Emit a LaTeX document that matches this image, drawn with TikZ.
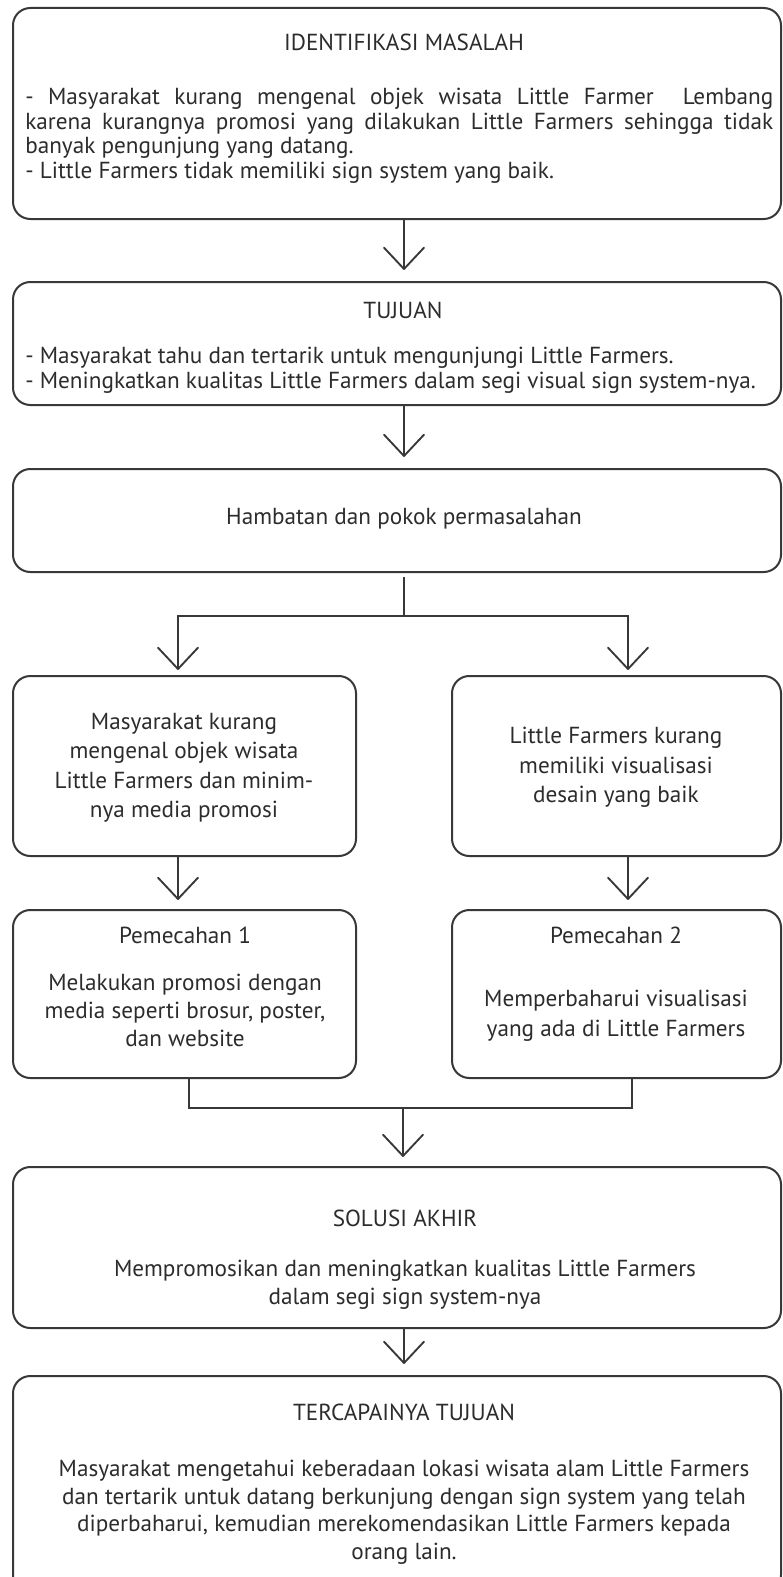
\documentclass[tikz,border=0pt]{standalone}
\usepackage{fontspec}
\setmainfont{PT Sans}
\usetikzlibrary{arrows.meta,fit}
\definecolor{ink}{HTML}{2C2C2C}
\definecolor{linec}{HTML}{383838}
\pgfdeclarearrow{
  name = Vtip,
  parameters = {\the\pgfarrowlength,\the\pgfarrowwidth},
  setup code = {
    \pgfarrowssettipend{0pt}
    \pgfarrowssetlineend{0pt}
    \pgfarrowssavethe\pgfarrowlength
    \pgfarrowssavethe\pgfarrowwidth
  },
  drawing code = {
    \pgfsetdash{}{0pt}
    \pgfsetroundjoin
    \pgfsetroundcap
    \pgfpathmoveto{\pgfqpoint{-\pgfarrowlength}{0.5\pgfarrowwidth}}
    \pgfpathlineto{\pgfpointorigin}
    \pgfpathlineto{\pgfqpoint{-\pgfarrowlength}{-0.5\pgfarrowwidth}}
    \pgfusepathqstroke
  },
  defaults = {length=16pt, width=30pt}
}
\newcommand{\fsA}{\fontsize{17.4}{18.4}\selectfont}
\newcommand{\fsB}{\fontsize{17.4}{21}\selectfont}
\newcommand{\fsC}{\fontsize{17.4}{22.1}\selectfont}
\newcommand{\fsD}{\fontsize{17.4}{20.6}\selectfont}
\newcommand{\fsE}{\fontsize{17.4}{22.5}\selectfont}
\begin{document}
\begin{tikzpicture}[x=0.75pt,y=-0.75pt,
  panel/.style={draw=linec, line width=1.5pt, rounded corners=13pt, inner sep=0pt},
  conn/.style={draw=linec, line width=1.4pt},
  arr/.style={conn, -{Vtip[length=16pt,width=30pt]}, shorten >=8pt},
  ttl/.style={text=ink, font=\fsA, inner sep=0pt},
  txt/.style={text=ink, align=center, inner sep=0pt, anchor=north}
]
\useasboundingbox (0,0) rectangle (782,1577);
\clip (0,0) rectangle (782,1577);
\fill[white] (0,0) rectangle (782,1577);

% helper coordinates
\coordinate (cx) at (404,0);
\coordinate (lx) at (178,0);
\coordinate (rx) at (628,0);
\coordinate (pl) at (189,0);
\coordinate (pr) at (632,0);
\coordinate (j1) at (404,616);
\coordinate (j2) at (403,1108);

% box 1
\node[panel, fit={(13,8) (781,219)}] (b1) {};
\node[ttl] (t1) at (404,42) {IDENTIFIKASI MASALAH};
\node[text=ink, inner sep=0pt, text width=561pt, align=justify, anchor=north west] (d1) at (25,88)
 {\fsA- Masyarakat kurang mengenal objek wisata Little Farmer\ \ Lembang\linebreak
  karena kurangnya promosi yang dilakukan Little Farmers sehingga tidak\linebreak
  banyak pengunjung yang datang.\\
  - Little Farmers tidak memiliki sign system yang baik.\par};

% box 2
\node[panel, fit={(13,282) (781,405)}] (b2) {};
\node[ttl] (t2) at (403,310) {TUJUAN};
\node[text=ink, inner sep=0pt, align=left, font=\fsA, anchor=north west] (d2) at (25,347)
 {- Masyarakat tahu dan tertarik untuk mengunjungi Little Farmers.\\
  - Meningkatkan kualitas Little Farmers dalam segi visual sign system-nya.};

% box 3
\node[panel, fit={(13,469) (781,572)}] (b3) {};
\node[txt, font=\fsA] (d3) at (404,508) {Hambatan dan pokok permasalahan};

% middle boxes
\node[panel, fit={(13,676) (356,856)}] (ml) {};
\node[txt, font=\fsC] (dml) at (184,713) {Masyarakat kurang\\mengenal objek wisata\\Little Farmers dan minim-\\nya media promosi};
\node[panel, fit={(452,676) (781,856)}] (mr) {};
\node[txt, font=\fsC] (dmr) at (616,727) {Little Farmers kurang\\memiliki visualisasi\\desain yang baik};

% pemecahan boxes
\node[panel, fit={(13,910) (356,1078)}] (p1) {};
\node[ttl] (tp1) at (185,935) {Pemecahan 1};
\node[txt, font=\fsB] (dp1) at (185,974) {Melakukan promosi dengan\\media seperti brosur, poster,\\dan website};
\node[panel, fit={(452,910) (781,1078)}] (p2) {};
\node[ttl] (tp2) at (616,935) {Pemecahan 2};
\node[txt, font=\fsE] (dp2) at (616,990) {Memperbaharui visualisasi\\yang ada di Little Farmers};

% solusi
\node[panel, fit={(13,1167) (781,1328)}] (sol) {};
\node[ttl] (ts) at (405,1218) {SOLUSI AKHIR};
\node[txt, font=\fsB] (ds) at (405,1260) {Mempromosikan dan meningkatkan kualitas Little Farmers\\dalam segi sign system-nya};

% final
\node[panel, fit={(13,1376) (781,1592)}] (fin) {};
\node[ttl] (tf) at (404,1412) {TERCAPAINYA TUJUAN};
\node[txt, font=\fsD] (df) at (404,1460) {Masyarakat mengetahui keberadaan lokasi wisata alam Little Farmers\\dan tertarik untuk datang berkunjung dengan sign system yang telah\\diperbaharui, kemudian merekomendasikan Little Farmers kepada\\orang lain.};

% connectors
\draw[arr, shorten >=9pt] (b1.south -| cx) -- (b2.north -| cx);
\draw[arr, shorten >=9pt] (b2.south -| cx) -- (b3.north -| cx);
\draw[conn, shorten <=3pt] (b3.south -| cx) -- (j1);
\draw[arr, shorten >=4.5pt] (j1) -| (ml.north -| lx);
\draw[arr, shorten >=4.5pt] (j1) -| (mr.north -| rx);
\draw[arr, shorten >=7.5pt] (ml.south -| lx) -- (p1.north -| lx);
\draw[arr, shorten >=7.5pt] (mr.south -| rx) -- (p2.north -| rx);
\draw[conn] (p1.south -| pl) |- (j2) -| (p2.south -| pr);
\draw[arr, shorten >=7.5pt] (j2) -- (sol.north -| j2);
\draw[arr, shorten >=9pt] (sol.south -| cx) -- (fin.north -| cx);
\end{tikzpicture}
\end{document}
